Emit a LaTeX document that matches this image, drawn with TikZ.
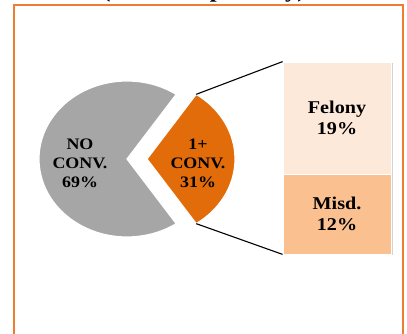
\documentclass[tikz,border=0pt]{standalone}
\usepackage{fontspec}
\setmainfont{Liberation Serif}[FakeStretch=1.12]
\usetikzlibrary{shadows,calc}

\definecolor{frameorange}{RGB}{237,125,49}
\definecolor{sliceorange}{RGB}{226,107,10}
\definecolor{slicegrey}{RGB}{166,166,166}
\definecolor{felonyfill}{RGB}{253,233,217}
\definecolor{misdfill}{RGB}{250,192,144}

\tikzset{
  slice/.style={draw=white, line width=1.2pt},
  pielabel/.style={align=center, font=\fontsize{16}{19}\selectfont\bfseries},
  barbox/.style={draw=white, line width=0.8pt, minimum width=108pt, align=center,
    font=\fontsize{18}{21}\selectfont\bfseries,
    drop shadow={shadow xshift=1.5pt, shadow yshift=-1.5pt, opacity=.35}},
  leader/.style={draw=black, line width=1.1pt}
}

\begin{document}
\begin{tikzpicture}[x=1pt, y=1pt]
  \useasboundingbox (0,0) rectangle (407,334);

  % Title (cut off at the top)
  \node[anchor=base, font=\fontsize{22}{26}\selectfont\bfseries] (title) at (204,336.5) {(Scaled Separately)};

  % Frame
  \draw[frameorange, line width=1.5pt] (14,-5) -- (14,329) -- (403,329) -- (403,-5);

  % Pie slices
  \fill[slicegrey, slice] (127,175) -- ++(56:88 and 78)
    arc[start angle=56, end angle=304, x radius=88, y radius=78] -- cycle;
  \fill[sliceorange, slice] (147,175) -- ++(-56:88 and 78)
    arc[start angle=-56, end angle=56, x radius=88, y radius=78] -- cycle;
  \coordinate (otop) at ($(147,175)+(56:88 and 78)$);
  \coordinate (obot) at ($(147,175)+(-56:88 and 78)$);

  % Pie labels
  \node[pielabel] (noconv) at (80,171) {NO\\CONV.\\69\%};
  \node[pielabel] (conv)   at (198,171) {1+\\CONV.\\31\%};

  % Breakdown bar
  \node[barbox, fill=felonyfill, minimum height=112pt] (felony) at (337,216) {Felony\\19\%};
  \node[barbox, fill=misdfill, minimum height=80pt]    (misd)   at (337,120) {Misd.\\12\%};

  % Connections
  \draw[leader] (otop) -- (felony.north west);
  \draw[leader] (obot) -- (misd.south west);
\end{tikzpicture}
\end{document}
